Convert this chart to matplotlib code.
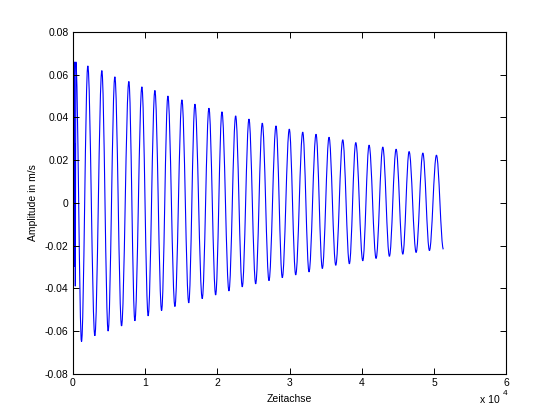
import numpy as np
import matplotlib.pyplot as plt
from matplotlib.path import Path
from matplotlib.patches import PathPatch

plt.rcParams['font.family'] = ['Liberation Sans', 'DejaVu Sans']
plt.rcParams['font.size'] = 7.5

# opening transient (time, amplitude)
start_t = [0, 50, 100, 150, 200, 250, 300, 350, 420]
start_y = [0.035, -0.040, 0.060, -0.030, 0.066, -0.023, 0.028, -0.039, 0.066]

# troughs and peaks of the decaying oscillation
trough_t = [1205, 3048, 4891, 6748, 8591, 10433, 12290, 14133, 16050, 17916,
            19773, 21615, 23458, 25315, 27158, 29001, 30857, 32700, 34543, 36400,
            38285, 40141, 41984, 43827, 45683, 47526, 49369]
trough_y = [-0.0649, -0.0622, -0.0600, -0.0576, -0.0552, -0.0529, -0.0504, -0.0485, -0.0468, -0.0448,
            -0.0431, -0.0412, -0.0393, -0.0379, -0.0364, -0.0350, -0.0337, -0.0323, -0.0307, -0.0292,
            -0.0285, -0.0271, -0.0260, -0.0250, -0.0240, -0.0232, -0.0223]
peak_t = [2078, 4018, 5820, 7759, 9561, 11362, 13163, 15103, 16904, 18844,
          20645, 22544, 24386, 26230, 28128, 29970, 31828, 33670, 35471, 37370,
          39171, 41014, 42913, 44755, 46556, 48455, 50339]
peak_y = [0.0641, 0.0619, 0.0590, 0.0568, 0.0543, 0.0526, 0.0500, 0.0482, 0.0462, 0.0443,
          0.0426, 0.0407, 0.0392, 0.0373, 0.0360, 0.0345, 0.0331, 0.0321, 0.0307, 0.0295,
          0.0282, 0.0270, 0.0261, 0.0251, 0.0240, 0.0233, 0.0223]
end_t = 51300
end_y = -0.0217

fig = plt.figure(figsize=(5.6, 4.2), dpi=100)
ax = fig.add_axes([0.130, 0.110, 0.774, 0.814])

# build path: straight segments for the transient, smooth curves between extrema
ext_t, ext_y = [start_t[-1]], [start_y[-1]]
for i in range(len(trough_t)):
    ext_t += [trough_t[i], peak_t[i]]
    ext_y += [trough_y[i], peak_y[i]]
ext_t.append(end_t)
ext_y.append(end_y)

verts = [(start_t[0], start_y[0])]
codes = [Path.MOVETO]
for t, y in zip(start_t[1:], start_y[1:]):
    verts.append((t, y))
    codes.append(Path.LINETO)
k = 0.3634
for i in range(1, len(ext_t)):
    t0, y0 = ext_t[i - 1], ext_y[i - 1]
    t1, y1 = ext_t[i], ext_y[i]
    dt = t1 - t0
    verts += [(t0 + k * dt, y0), (t1 - k * dt, y1), (t1, y1)]
    codes += [Path.CURVE4] * 3

ax.add_patch(PathPatch(Path(verts, codes), facecolor='none', edgecolor='#0000ff', lw=0.8))

ax.set_xlim(0, 60000)
ax.set_ylim(-0.08, 0.08)
ax.set_xticks(np.arange(0, 60001, 10000))
ax.set_xticklabels(['0', '1', '2', '3', '4', '5', '6'])
ax.set_yticks(np.linspace(-0.08, 0.08, 9))
ax.set_yticklabels(['-0.08', '-0.06', '-0.04', '-0.02', '0', '0.02', '0.04', '0.06', '0.08'])
ax.tick_params(direction='in', length=4, width=0.7, top=True, right=True, pad=3, labelsize=7.5)
for s in ax.spines.values():
    s.set_linewidth(0.8)

ax.set_xlabel('Zeitachse', fontsize=7.5, labelpad=4)
ax.set_ylabel('Amplitude in m/s', fontsize=7.5, labelpad=5)

fig.text(0.857, 0.040, 'x 10', fontsize=7.5)
fig.text(0.897, 0.060, '4', fontsize=6)

fig.savefig('out.png', dpi=100)
